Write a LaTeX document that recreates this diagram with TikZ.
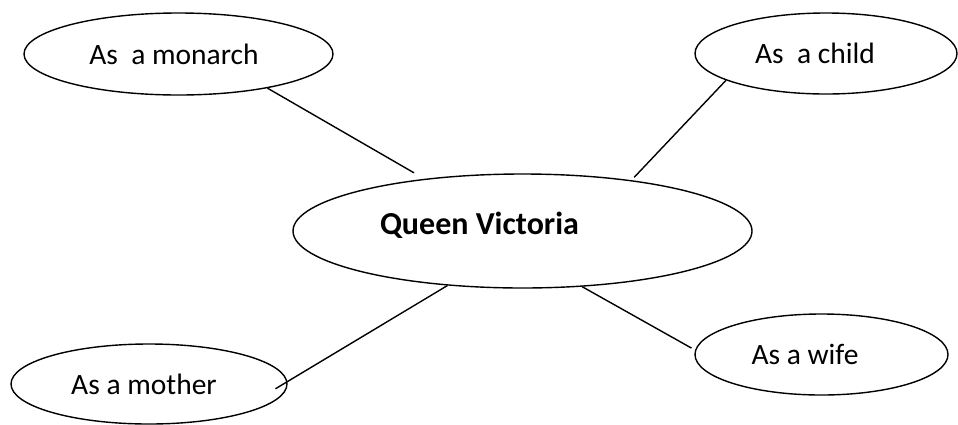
\documentclass[tikz,border=0pt]{standalone}
\usepackage{fontspec}
\setmainfont{Carlito}
\usetikzlibrary{shapes.geometric}
\begin{document}
\begin{tikzpicture}[x=1pt,y=-1pt,
  bub/.style={draw=black, line width=1.4pt, ellipse, inner sep=0pt},
  lbl/.style={font=\fontsize{29.5}{34}\selectfont, inner sep=0pt},
  con/.style={draw=black, line width=1.4pt}]
\useasboundingbox (0,0) rectangle (958,424);
\node[bub, minimum width=309pt, minimum height=82pt,
      label={[lbl, xshift=-4.5pt]center:As~~a monarch}] (mon) at (178.5,54) {};
\node[bub, minimum width=262pt, minimum height=81pt,
      label={[lbl, xshift=-11pt]center:As~~a child}] (chi) at (826,53.5) {};
\node[bub, minimum width=459pt, minimum height=114pt,
      label={[lbl, font=\fontsize{32}{36}\selectfont\bfseries, xshift=-43pt, yshift=6pt]center:Queen Victoria}] (vic) at (522.5,231) {};
\node[bub, minimum width=276pt, minimum height=80pt,
      label={[lbl, xshift=-5pt]center:As a mother}] (mot) at (149,384) {};
\node[bub, minimum width=253pt, minimum height=81pt,
      label={[lbl, xshift=-16.5pt]center:As a wife}] (wif) at (821.5,354.5) {};
\draw[con, shorten >=12pt] (mon.-21) -- (vic.152.5);
\draw[con, shorten >=4pt] (chi.195) -- (vic.25.6);
\draw[con, shorten <=-14pt] (mot.1.4) -- (vic.216.6);
\draw[con, shorten >=4pt] (vic.-43.7) -- (wif.178.5);
\end{tikzpicture}
\end{document}
